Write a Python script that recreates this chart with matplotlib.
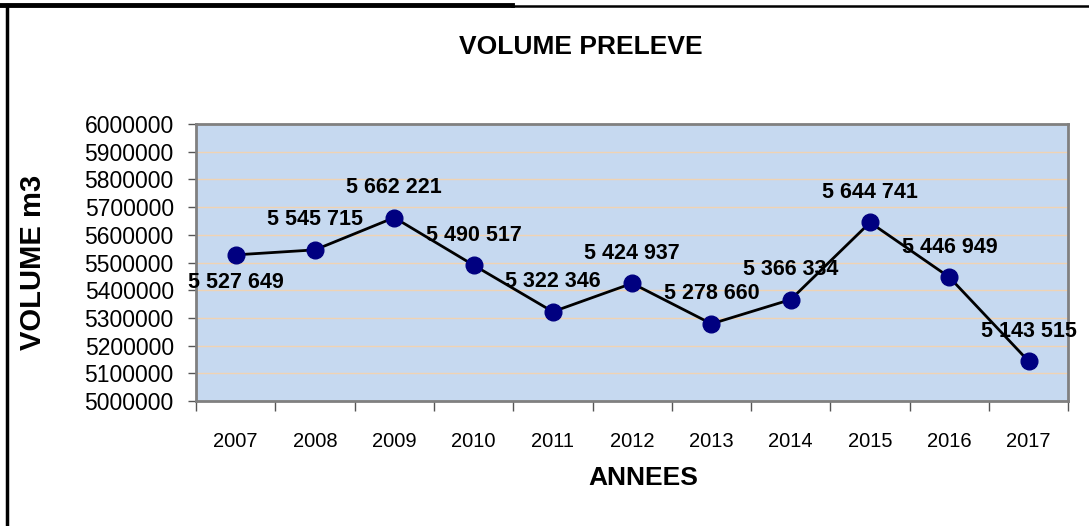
import matplotlib.pyplot as plt
import numpy as np
from matplotlib.lines import Line2D
from matplotlib.ticker import FixedLocator

plt.rcParams['font.family'] = ['Liberation Sans', 'DejaVu Sans']

years = ['2007', '2008', '2009', '2010', '2011', '2012', '2013', '2014', '2015', '2016', '2017']
volumes = [5527649, 5545715, 5662221, 5490517, 5322346, 5424937, 5278660, 5366334, 5644741, 5446949, 5143515]
yticks = list(range(5000000, 6000001, 100000))

fig = plt.figure(figsize=(10.89, 5.26), dpi=100)
ax = fig.add_axes([0.180, 0.2376, 0.801, 0.5266])

x = np.arange(len(years))
ax.set_facecolor('#C6D9F0')
ax.plot(x, volumes, color='black', lw=2, marker='o', ms=12,
        markerfacecolor='#000080', markeredgecolor='#000080', zorder=3)

def fmt(v):
    return f'{v:,}'.replace(',', ' ')

# data labels
for i, v in enumerate(volumes):
    dy = -28 if i == 0 else 30
    ax.annotate(fmt(v), (i, v), xytext=(0, dy), textcoords='offset pixels',
                ha='center', va='center', fontsize=15.5, fontweight='bold', zorder=4)

ax.set_xlim(-0.5, len(years) - 0.5)
ax.set_ylim(5000000, 6000000)
ax.set_yticks(yticks)
ax.set_yticklabels([str(t) for t in yticks], fontsize=16.5)
ax.yaxis.grid(True, color='#EFD3B3', lw=1)
ax.set_axisbelow(True)

ax.xaxis.set_major_locator(FixedLocator(np.arange(-0.5, len(years), 1)))
ax.set_xticklabels([])
ax.xaxis.set_minor_locator(FixedLocator(x))
ax.set_xticks(x, years, minor=True, fontsize=14.5)
ax.tick_params(axis='x', which='minor', length=0, pad=22)
ax.tick_params(axis='x', which='major', length=7, width=1, color='#555555')
ax.tick_params(axis='y', which='major', length=6, width=1, color='#555555', pad=10)

for s in ax.spines.values():
    s.set_color('#808080')
    s.set_linewidth(2)

ax.set_xlabel('ANNEES', fontsize=19, fontweight='bold')
ax.xaxis.set_label_coords(0.513, -0.278)
ax.xaxis.label.set_va('center')
ax.set_ylabel('VOLUME m3', fontsize=21, fontweight='bold')
ax.yaxis.set_label_coords(-0.187, 0.50)
ax.yaxis.label.set_va('center')
fig.text(0.533, 0.91, 'VOLUME PRELEVE', ha='center', va='center', fontsize=19, fontweight='bold')

# frame lines around the chart area
fig.add_artist(Line2D([0, 512 / 1089], [1 - 4.5 / 526] * 2, color='black', lw=3.5))
fig.add_artist(Line2D([512 / 1089, 1], [1 - 6 / 526] * 2, color='black', lw=1.8))
fig.add_artist(Line2D([7 / 1089] * 2, [0, 1 - 4.5 / 526], color='black', lw=2.5))

fig.savefig('out.png', dpi=100)
